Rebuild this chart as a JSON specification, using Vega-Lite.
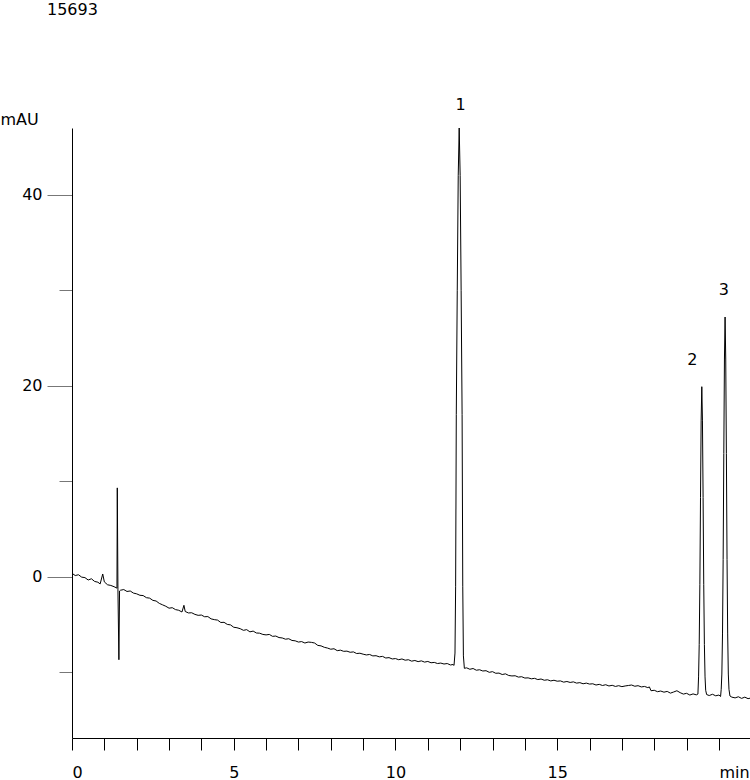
{
  "$schema": "https://vega.github.io/schema/vega-lite/v6.json",
  "width": 678,
  "height": 610,
  "autosize": "none",
  "padding": {"left": 72, "top": 128, "right": 0, "bottom": 42},
  "background": "white",
  "title": {"text": "15693", "anchor": "start", "frame": "group", "font": "DejaVu Sans", "fontSize": 16, "fontWeight": "normal", "color": "black", "dx": -25, "dy": -75},
  "config": {"view": {"stroke": null}, "font": "DejaVu Sans", "axis": {"labelOverlap": false, "labelSeparation": 0}},
  "datasets": {
    "trace": [
      {"t":0.0,"v":0.35},{"t":0.1,"v":0.12},{"t":0.2,"v":0.2},{"t":0.3,"v":-0.05},{"t":0.4,"v":-0.1},{"t":0.5,"v":-0.35},{"t":0.6,"v":-0.22},{"t":0.7,"v":-0.5},{"t":0.8,"v":-0.58},{"t":0.87,"v":-0.76},{"t":0.95,"v":0.28},{"t":1.0,"v":-0.55},{"t":1.1,"v":-0.85},{"t":1.2,"v":-0.92},{"t":1.3,"v":-1.05},{"t":1.39,"v":-1.2},{"t":1.4,"v":9.3},{"t":1.42,"v":-1.3},{"t":1.45,"v":-8.7},{"t":1.47,"v":-1.5},
      {"t":1.5,"v":-1.42},{"t":1.6,"v":-1.35},{"t":1.7,"v":-1.55},{"t":1.8,"v":-1.5},{"t":1.9,"v":-1.72},{"t":2.0,"v":-1.8},{"t":2.1,"v":-1.95},{"t":2.2,"v":-1.98},{"t":2.3,"v":-2.2},{"t":2.4,"v":-2.25},{"t":2.5,"v":-2.48},{"t":2.6,"v":-2.55},{"t":2.7,"v":-2.8},{"t":2.8,"v":-2.95},{"t":2.9,"v":-3.1},{"t":3.0,"v":-3.3},{"t":3.1,"v":-3.25},{"t":3.2,"v":-3.45},{"t":3.3,"v":-3.52},{"t":3.4,"v":-3.7},{"t":3.46,"v":-3.0},{"t":3.5,"v":-3.65},{"t":3.6,"v":-3.8},{"t":3.7,"v":-3.78},{"t":3.8,"v":-3.95},{"t":3.9,"v":-4.05},{"t":4.0,"v":-4.02},
      {"t":4.1,"v":-4.2},{"t":4.2,"v":-4.18},{"t":4.3,"v":-4.42},{"t":4.4,"v":-4.5},{"t":4.5,"v":-4.55},{"t":4.6,"v":-4.8},{"t":4.7,"v":-4.78},{"t":4.8,"v":-5.0},{"t":4.9,"v":-5.05},{"t":5.0,"v":-5.3},{"t":5.1,"v":-5.35},{"t":5.2,"v":-5.45},{"t":5.3,"v":-5.62},{"t":5.4,"v":-5.55},{"t":5.5,"v":-5.78},{"t":5.6,"v":-5.7},{"t":5.7,"v":-5.9},{"t":5.8,"v":-5.92},{"t":5.9,"v":-6.05},{"t":6.0,"v":-6.1},
      {"t":6.1,"v":-6.05},{"t":6.2,"v":-6.25},{"t":6.3,"v":-6.22},{"t":6.4,"v":-6.38},{"t":6.5,"v":-6.42},{"t":6.6,"v":-6.55},{"t":6.7,"v":-6.5},{"t":6.8,"v":-6.68},{"t":6.9,"v":-6.72},{"t":7.0,"v":-6.85},{"t":7.1,"v":-6.8},{"t":7.2,"v":-6.95},{"t":7.3,"v":-6.85},{"t":7.4,"v":-6.88},{"t":7.5,"v":-6.95},{"t":7.6,"v":-7.2},{"t":7.7,"v":-7.25},{"t":7.8,"v":-7.4},{"t":7.9,"v":-7.48},{"t":8.0,"v":-7.6},
      {"t":8.1,"v":-7.55},{"t":8.2,"v":-7.75},{"t":8.3,"v":-7.7},{"t":8.4,"v":-7.82},{"t":8.5,"v":-7.8},{"t":8.6,"v":-7.92},{"t":8.7,"v":-7.88},{"t":8.8,"v":-8.05},{"t":8.9,"v":-8.02},{"t":9.0,"v":-8.12},{"t":9.1,"v":-8.2},{"t":9.2,"v":-8.15},{"t":9.3,"v":-8.3},{"t":9.4,"v":-8.28},{"t":9.5,"v":-8.4},{"t":9.6,"v":-8.35},{"t":9.7,"v":-8.52},{"t":9.8,"v":-8.48},{"t":9.9,"v":-8.62},{"t":10.0,"v":-8.58},
      {"t":10.1,"v":-8.7},{"t":10.2,"v":-8.62},{"t":10.3,"v":-8.75},{"t":10.4,"v":-8.7},{"t":10.5,"v":-8.85},{"t":10.6,"v":-8.78},{"t":10.7,"v":-8.9},{"t":10.8,"v":-8.82},{"t":10.9,"v":-8.95},{"t":11.0,"v":-8.88},{"t":11.1,"v":-9.02},{"t":11.2,"v":-8.98},{"t":11.3,"v":-9.1},{"t":11.4,"v":-9.05},{"t":11.5,"v":-9.15},{"t":11.6,"v":-9.1},{"t":11.7,"v":-9.25},{"t":11.78,"v":-9.2},
      {"t":11.81,"v":-9.3},{"t":11.84,"v":-8.0},{"t":11.86,"v":-1.0},{"t":11.88,"v":17.0},{"t":11.91,"v":30.0},{"t":11.94,"v":42.0},{"t":11.97,"v":47.0},{"t":12.0,"v":42.0},{"t":12.03,"v":30.0},{"t":12.06,"v":17.0},{"t":12.08,"v":-1.0},{"t":12.1,"v":-8.3},{"t":12.13,"v":-9.6},
      {"t":12.2,"v":-9.55},{"t":12.3,"v":-9.7},{"t":12.4,"v":-9.62},{"t":12.5,"v":-9.8},{"t":12.6,"v":-9.75},{"t":12.7,"v":-9.88},{"t":12.8,"v":-9.85},{"t":12.9,"v":-10.02},{"t":13.0,"v":-9.95},{"t":13.1,"v":-10.12},{"t":13.2,"v":-10.1},{"t":13.3,"v":-10.25},{"t":13.4,"v":-10.18},{"t":13.5,"v":-10.35},{"t":13.6,"v":-10.4},{"t":13.7,"v":-10.38},{"t":13.8,"v":-10.52},{"t":13.9,"v":-10.48},{"t":14.0,"v":-10.62},
      {"t":14.1,"v":-10.6},{"t":14.2,"v":-10.7},{"t":14.3,"v":-10.65},{"t":14.4,"v":-10.78},{"t":14.5,"v":-10.72},{"t":14.6,"v":-10.85},{"t":14.7,"v":-10.8},{"t":14.8,"v":-10.92},{"t":14.9,"v":-10.85},{"t":15.0,"v":-10.95},{"t":15.1,"v":-10.92},{"t":15.2,"v":-11.05},{"t":15.3,"v":-10.98},{"t":15.4,"v":-11.08},{"t":15.5,"v":-11.02},{"t":15.6,"v":-11.15},{"t":15.7,"v":-11.1},{"t":15.8,"v":-11.22},{"t":15.9,"v":-11.15},{"t":16.0,"v":-11.25},
      {"t":16.1,"v":-11.22},{"t":16.2,"v":-11.35},{"t":16.3,"v":-11.28},{"t":16.4,"v":-11.4},{"t":16.5,"v":-11.32},{"t":16.6,"v":-11.45},{"t":16.7,"v":-11.38},{"t":16.8,"v":-11.5},{"t":16.9,"v":-11.42},{"t":17.0,"v":-11.52},{"t":17.1,"v":-11.45},{"t":17.2,"v":-11.4},{"t":17.3,"v":-11.35},{"t":17.4,"v":-11.48},{"t":17.5,"v":-11.42},{"t":17.6,"v":-11.55},{"t":17.7,"v":-11.5},{"t":17.8,"v":-11.62},{"t":17.85,"v":-11.55},{"t":17.9,"v":-11.95},{"t":18.0,"v":-11.9},
      {"t":18.1,"v":-12.05},{"t":18.2,"v":-11.98},{"t":18.3,"v":-12.1},{"t":18.4,"v":-12.02},{"t":18.5,"v":-12.2},{"t":18.6,"v":-12.08},{"t":18.7,"v":-11.95},{"t":18.8,"v":-12.15},{"t":18.9,"v":-12.3},{"t":19.0,"v":-12.22},{"t":19.1,"v":-12.4},{"t":19.2,"v":-12.28},{"t":19.3,"v":-12.38},
      {"t":19.35,"v":-12.3},{"t":19.37,"v":-10.5},{"t":19.39,"v":-7.1},{"t":19.41,"v":-0.8},{"t":19.43,"v":8.3},{"t":19.45,"v":16.4},{"t":19.47,"v":19.9},{"t":19.49,"v":16.4},{"t":19.51,"v":8.3},{"t":19.53,"v":-0.8},{"t":19.55,"v":-7.1},{"t":19.57,"v":-10.5},{"t":19.59,"v":-11.9},{"t":19.62,"v":-12.35},
      {"t":19.7,"v":-12.45},{"t":19.8,"v":-12.32},{"t":19.9,"v":-12.48},{"t":20.0,"v":-12.4},{"t":20.05,"v":-12.55},
      {"t":20.07,"v":-11.8},{"t":20.09,"v":-10.2},{"t":20.11,"v":-6.0},{"t":20.13,"v":1.8},{"t":20.15,"v":12.9},{"t":20.17,"v":22.8},{"t":20.19,"v":27.2},{"t":20.21,"v":22.8},{"t":20.23,"v":12.9},{"t":20.25,"v":1.8},{"t":20.27,"v":-6.0},{"t":20.29,"v":-10.2},{"t":20.31,"v":-11.8},{"t":20.34,"v":-12.5},
      {"t":20.4,"v":-12.62},{"t":20.5,"v":-12.7},{"t":20.6,"v":-12.58},{"t":20.7,"v":-12.75},{"t":20.8,"v":-12.62},{"t":20.9,"v":-12.78},{"t":21.0,"v":-12.7}
    ],
    "peaks": [
      {"t":12.01,"v":49.4,"label":"1"},
      {"t":19.18,"v":22.7,"label":"2"},
      {"t":20.15,"v":30.05,"label":"3"}
    ]
  },
  "encoding": {
    "x": {
      "field": "t", "type": "quantitative",
      "scale": {"domain": [0, 20.96], "nice": false, "zero": false},
      "axis": {
        "title": null,
        "values": [0,1,2,3,4,5,6,7,8,9,10,11,12,13,14,15,16,17,18,19,20],
        "labelExpr": "datum.value == 20 ? 'min' : datum.value == 15 ? '15' : datum.value == 10 ? '10' : datum.value == 5 ? '5' : datum.value == 0 ? '0' : ''",
        "labelAlign": {"condition": {"test": "datum.value == 0 || datum.value == 20", "value": "left"}, "value": "center"},
        "labelFont": "DejaVu Sans", "labelFontSize": 16, "labelColor": "black",
        "labelPadding": 14, "labelOverlap": false, "labelFlush": false, "labelSeparation": 0,
        "tickSize": 12, "tickColor": "black", "tickWidth": 1,
        "domainColor": "black", "domainWidth": 1, "grid": false
      }
    },
    "y": {
      "field": "v", "type": "quantitative",
      "scale": {"domain": [-16.9, 47.0], "nice": false, "zero": false},
      "axis": {
        "title": "mAU",
        "titleAngle": 0, "titleAlign": "left", "titleBaseline": "alphabetic",
        "titleX": -72, "titleY": -4,
        "titleFont": "DejaVu Sans", "titleFontSize": 16, "titleFontWeight": "normal", "titleColor": "black",
        "values": [-10, 0, 10, 20, 30, 40],
        "labelExpr": "datum.value % 20 == 0 ? datum.label : ''",
        "labelFont": "DejaVu Sans", "labelFontSize": 16, "labelColor": "black",
        "labelPadding": 5, "labelOverlap": false, "labelFlush": false,
        "tickSize": {"condition": {"test": "datum.value % 20 == 0", "value": 25}, "value": 13},
        "tickColor": "#777", "tickWidth": 1,
        "domainColor": "black", "domainWidth": 1, "grid": false
      }
    }
  },
  "layer": [
    {
      "data": {"name": "trace"},
      "mark": {"type": "line", "color": "black", "strokeWidth": 1, "clip": true, "interpolate": "linear"}
    },
    {
      "data": {"name": "peaks"},
      "mark": {"type": "text", "font": "DejaVu Sans", "fontSize": 16, "color": "black", "align": "center", "baseline": "middle", "clip": false},
      "encoding": {
        "text": {"field": "label"}
      }
    }
  ]
}
